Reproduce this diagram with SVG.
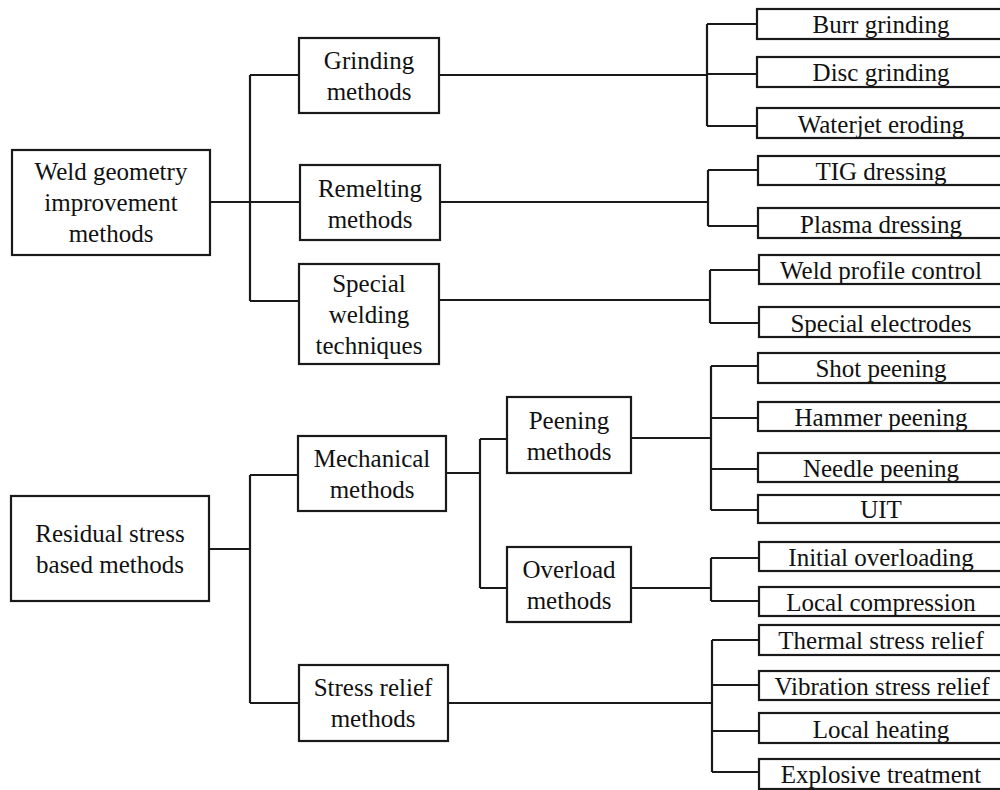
<svg xmlns="http://www.w3.org/2000/svg" width="1000" height="790" viewBox="0 0 1000 790">
<style>
rect{fill:#fff;stroke:#1a1a1a;stroke-width:2.2}
text{font-size:25px;fill:#111;text-anchor:middle}
#connectors path{fill:none;stroke:#1a1a1a;stroke-width:2.2}
</style>
<rect x="0" y="0" width="1000" height="790" style="stroke:none"/>
<g id="connectors">
<path d="M210,202H250M250,75V301M250,75H299M250,202H300M250,301H299"/>
<path d="M439,75H707M707,24V126M707,24H757M707,74H757M707,126H757"/>
<path d="M440,202H708M708,170V226M708,170H758M708,226H758"/>
<path d="M439,300H710M710,270V323M710,270H759M710,323H759"/>
<path d="M209,549H250M250,475V703M250,475H298M250,703H299"/>
<path d="M446,473H480M480,439V588M480,439H507M480,588H507"/>
<path d="M631,438H711M711,366V510M711,366H758M711,418H758M711,469H758M711,510H758"/>
<path d="M631,588H711M711,558V601M711,558H759M711,601H759"/>
<path d="M448,703H712M712,640V772M712,640H759M712,685H759M712,731H759M712,772H759"/>
</g>
<g font-family="Liberation Serif, Times New Roman, serif">
<g id="weld-geometry"><rect x="12" y="150" width="198" height="105"/><text x="111" y="180">Weld geometry</text><text x="111" y="211">improvement</text><text x="111" y="242">methods</text></g>
<g id="grinding"><rect x="299" y="38" width="140" height="75"/><text x="369" y="69">Grinding</text><text x="369" y="100">methods</text></g>
<g id="remelting"><rect x="300" y="165" width="140" height="75"/><text x="370" y="197">Remelting</text><text x="370" y="228">methods</text></g>
<g id="special"><rect x="299" y="264" width="140" height="100"/><text x="369" y="292">Special</text><text x="369" y="323">welding</text><text x="369" y="354">techniques</text></g>
<g id="residual"><rect x="11" y="496" width="198" height="105"/><text x="110" y="542">Residual stress</text><text x="110" y="573">based methods</text></g>
<g id="mechanical"><rect x="298" y="436" width="148" height="75"/><text x="372" y="467">Mechanical</text><text x="372" y="498">methods</text></g>
<g id="peening"><rect x="507" y="397" width="124" height="76"/><text x="569" y="429">Peening</text><text x="569" y="460">methods</text></g>
<g id="overload"><rect x="507" y="547" width="124" height="75"/><text x="569" y="578">Overload</text><text x="569" y="609">methods</text></g>
<g id="stress-relief"><rect x="299" y="665" width="149" height="76"/><text x="373" y="696">Stress relief</text><text x="373" y="727">methods</text></g>
<g id="burr"><rect x="757" y="9" width="260" height="30"/><text x="881" y="33">Burr grinding</text></g>
<g id="disc"><rect x="757" y="57" width="260" height="30"/><text x="881" y="81">Disc grinding</text></g>
<g id="waterjet"><rect x="757" y="108" width="260" height="30"/><text x="881" y="133">Waterjet eroding</text></g>
<g id="tig"><rect x="758" y="156" width="260" height="29"/><text x="881" y="180">TIG dressing</text></g>
<g id="plasma"><rect x="758" y="208" width="260" height="30"/><text x="881" y="233">Plasma dressing</text></g>
<g id="profile"><rect x="759" y="255" width="260" height="29"/><text x="881" y="279">Weld profile control</text></g>
<g id="electrodes"><rect x="759" y="307" width="260" height="30"/><text x="881" y="332">Special electrodes</text></g>
<g id="shot"><rect x="758" y="353" width="260" height="30"/><text x="881" y="377">Shot peening</text></g>
<g id="hammer"><rect x="758" y="402" width="260" height="29"/><text x="881" y="426">Hammer peening</text></g>
<g id="needle"><rect x="758" y="453" width="260" height="29"/><text x="881" y="477">Needle peening</text></g>
<g id="uit"><rect x="758" y="495" width="260" height="28"/><text x="881" y="518">UIT</text></g>
<g id="initial"><rect x="759" y="542" width="260" height="29"/><text x="881" y="566">Initial overloading</text></g>
<g id="local-compression"><rect x="759" y="587" width="260" height="29"/><text x="881" y="611">Local compression</text></g>
<g id="thermal"><rect x="759" y="625" width="260" height="30"/><text x="881" y="649">Thermal stress relief</text></g>
<g id="vibration"><rect x="759" y="671" width="260" height="29"/><text x="882" y="695">Vibration stress relief</text></g>
<g id="local-heating"><rect x="759" y="713" width="260" height="30"/><text x="881" y="738">Local heating</text></g>
<g id="explosive"><rect x="759" y="759" width="260" height="30"/><text x="881" y="783">Explosive treatment</text></g>
</g>
</svg>
